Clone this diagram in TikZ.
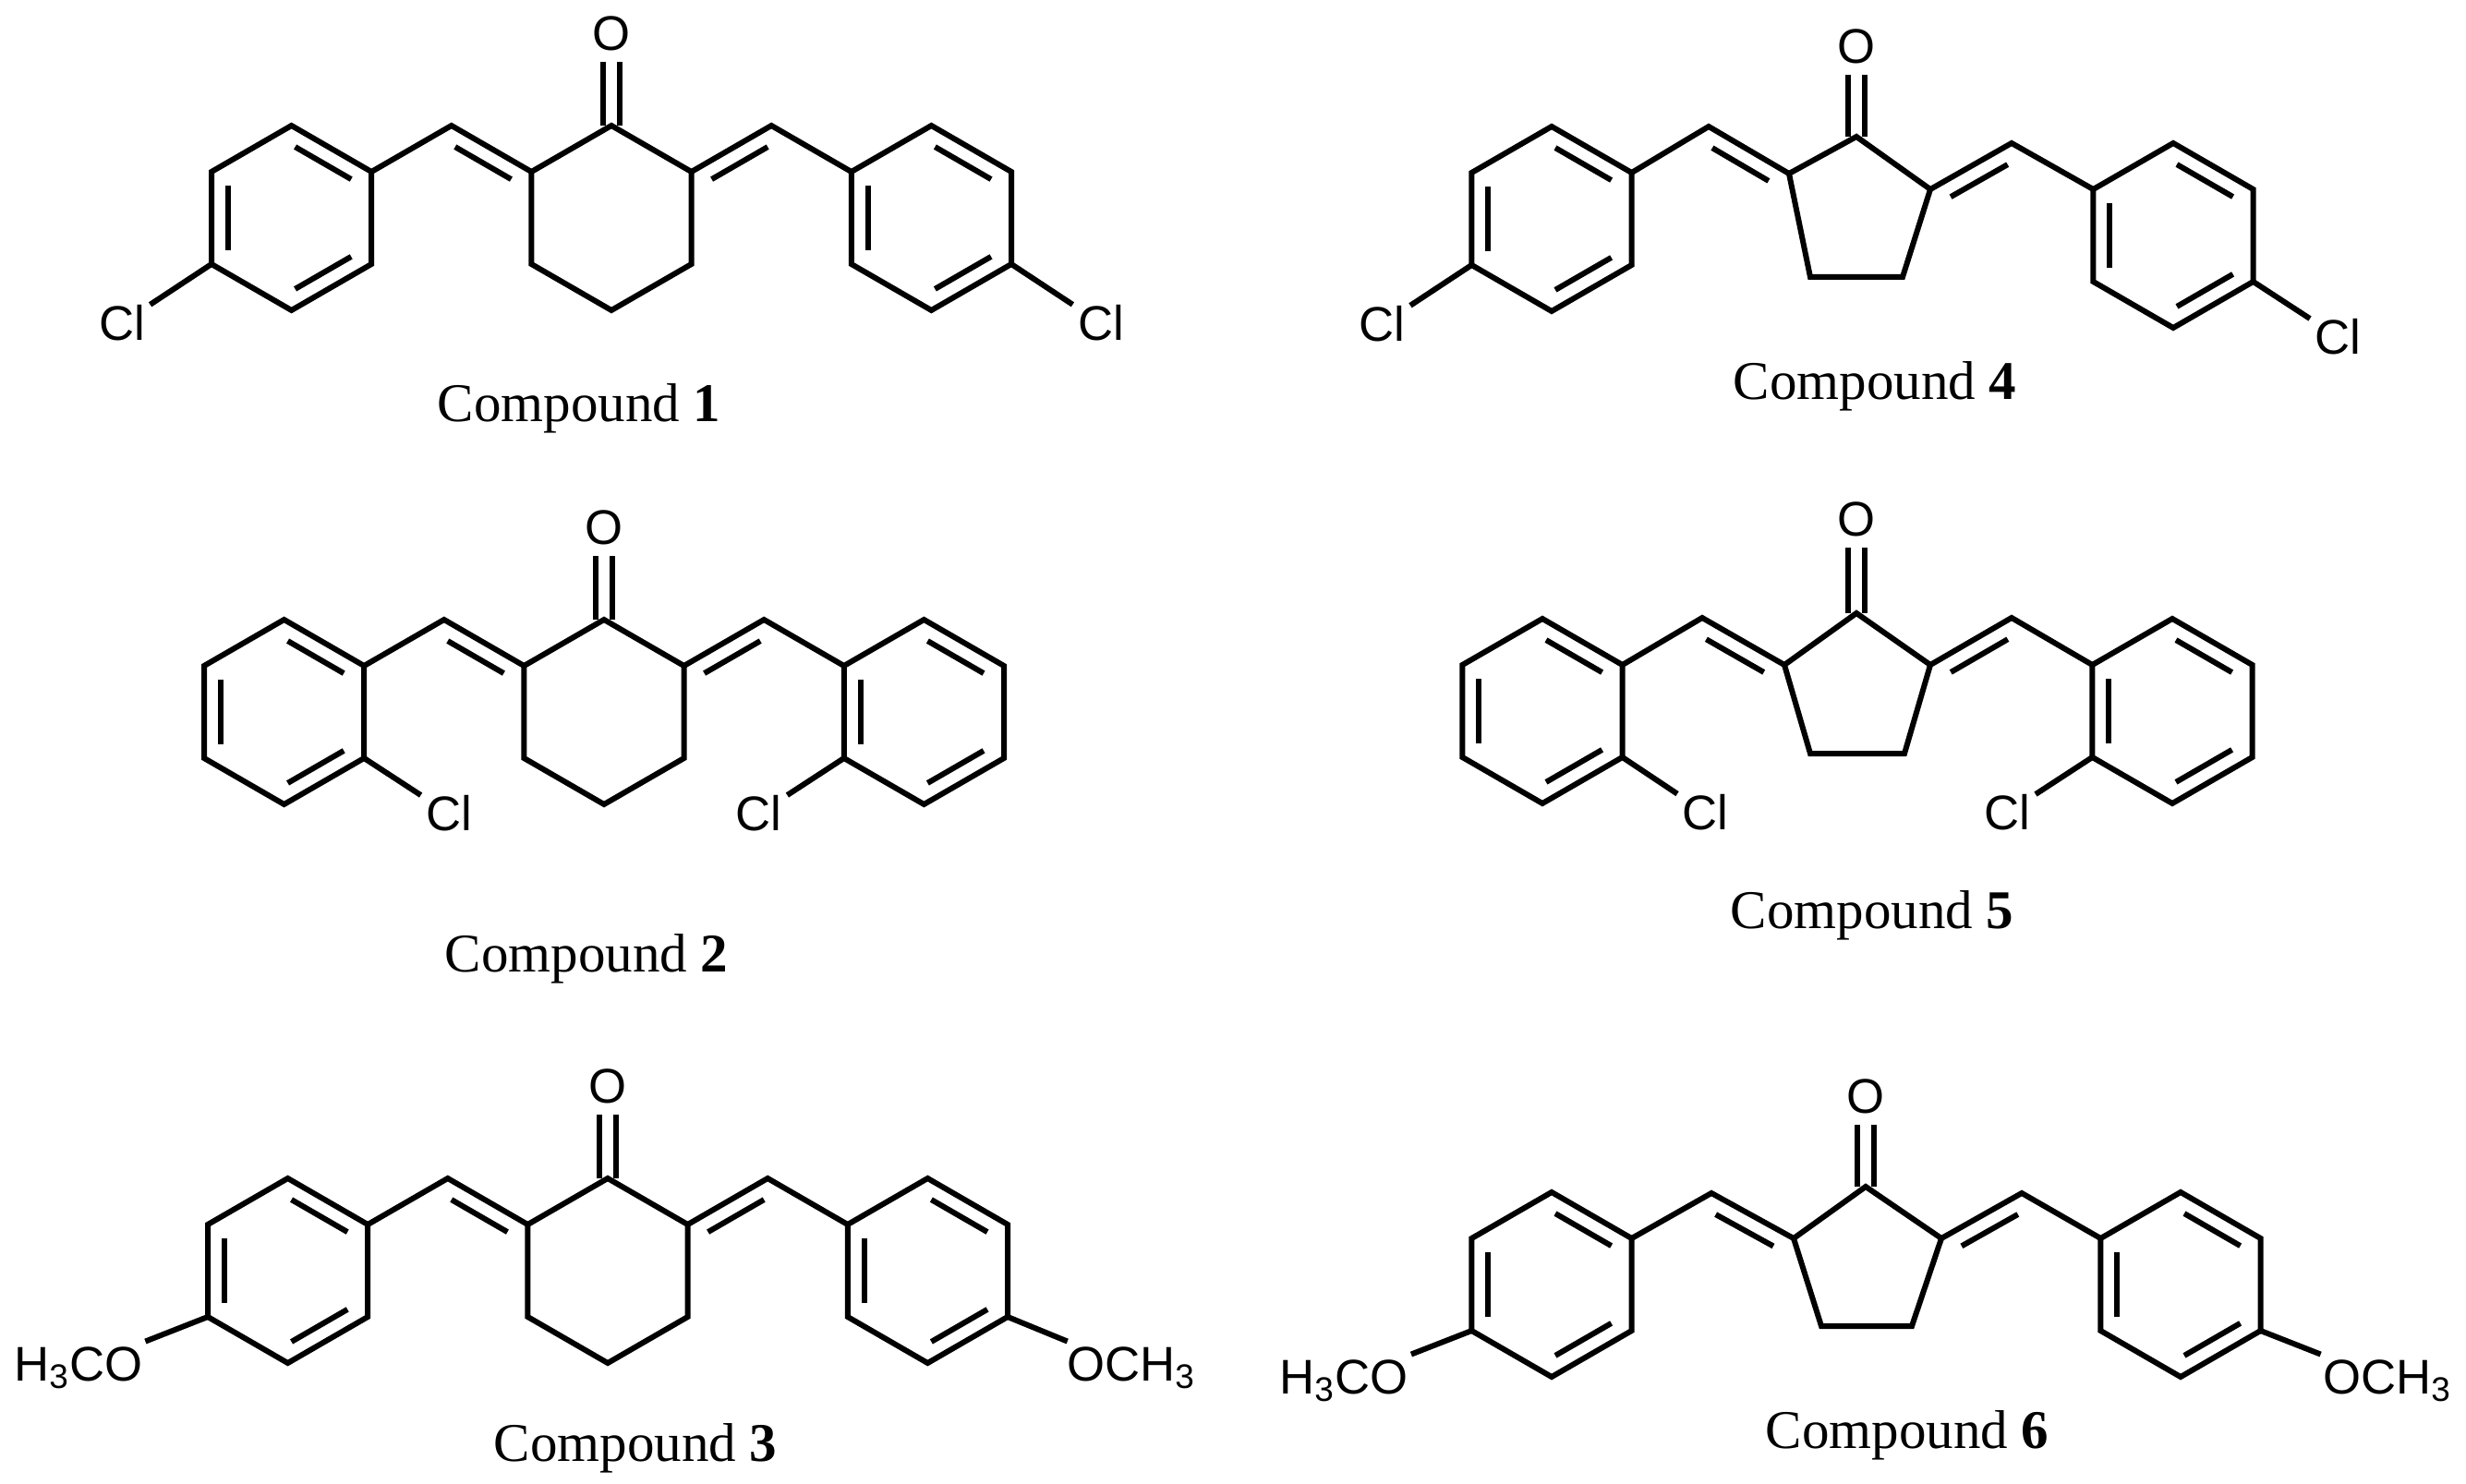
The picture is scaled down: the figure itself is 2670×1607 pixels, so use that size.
\documentclass[tikz,border=0pt]{standalone}
\usepackage{fontspec}
\setmainfont{Liberation Serif}
\newfontfamily\arialf{Liberation Sans}
\usetikzlibrary{calc}
\tikzset{
  bond/.style={line width=0.6mm, line join=miter, line cap=butt},
  atom/.style={font=\arialf\fontsize{15}{18}\selectfont, inner sep=0.5mm},
  oatom/.style={atom, inner sep=1.2mm},
  lab/.style={font=\fontsize{16.8}{20}\selectfont, anchor=base, inner sep=0pt}
}
% inner line of a double bond, on the left (+90) or right (-90) of a->b
\newcommand\innerb[3][90]{\draw[bond] ($(#2)!0.15!(#3)!1.8mm!#1:(#3)$) -- ($(#3)!0.15!(#2)!1.8mm!-#1:(#2)$);}
\newcommand\hexpts[3]{%
  \coordinate (#1t) at (#2,#3-100);
  \coordinate (#1ul) at (#2-86.6,#3-50);
  \coordinate (#1ll) at (#2-86.6,#3+50);
  \coordinate (#1b) at (#2,#3+100);
  \coordinate (#1lr) at (#2+86.6,#3+50);
  \coordinate (#1ur) at (#2+86.6,#3-50);
  \draw[bond] (#1t)--(#1ul)--(#1ll)--(#1b)--(#1lr)--(#1ur)--cycle;}
\newcommand\arylring[3]{\hexpts{#1}{#2}{#3}%
  \innerb{#1ur}{#1t}\innerb{#1ul}{#1ll}\innerb{#1b}{#1lr}}
\newcommand\carbonyl[1]{% #1 = name of carbonyl C; O node named #1O
  \draw[bond] ([xshift=-0.9mm]#1) -- ([xshift=-0.9mm]#1O.south);
  \draw[bond] ([xshift=0.9mm]#1) -- ([xshift=0.9mm]#1O.south);}
% six-ring ketone with both benzylidene arms
\newcommand\sixcore[3]{\hexpts{#1}{#2}{#3}%
  \node[oatom] (#1tO) at (#2,#3-200) {O};
  \carbonyl{#1t}
  \coordinate (#1hl) at (#2-173.2,#3-100);
  \coordinate (#1hr) at (#2+173.2,#3-100);
  \arylring{#1L}{#2-346.4}{#3}
  \arylring{#1R}{#2+346.4}{#3}
  \draw[bond] (#1ul)--(#1hl)--(#1Lur);
  \draw[bond] (#1ur)--(#1hr)--(#1Rul);
  \innerb[-90]{#1hl}{#1ul}
  \innerb[-90]{#1ur}{#1hr}}
\begin{document}
\begin{tikzpicture}[x=0.1mm,y=-0.1mm]
\useasboundingbox (0,0) rectangle (2670,1607);
% ---------- Compound 1 ----------
\sixcore{a}{662}{236}
\node[atom] (aCl1) at ($(aLll)+(-97,64)$) {Cl};
\node[atom] (aCl2) at ($(aRlr)+(97,64)$) {Cl};
\draw[bond] (aLll) -- (aCl1);
\draw[bond] (aRlr) -- (aCl2);
\node[lab] (la) at (627,457) {Compound \textbf{1}};
% ---------- Compound 2 ----------
\sixcore{b}{654}{771}
\node[atom] (bCl1) at ($(bLlr)+(92,60)$) {Cl};
\node[atom] (bCl2) at ($(bRll)+(-92,60)$) {Cl};
\draw[bond] (bLlr) -- (bCl1);
\draw[bond] (bRll) -- (bCl2);
\node[lab] (lb) at (635,1052) {Compound \textbf{2}};
% ---------- Compound 3 ----------
\sixcore{c}{658}{1376}
\node[atom] (cO1) at (85,1481) {H\textsubscript{3}CO};
\node[atom] (cO2) at (1225,1481) {OCH\textsubscript{3}};
\draw[bond] (cLll) -- (cO1);
\draw[bond] (cRlr) -- (cO2);
\node[lab] (lc) at (688,1582) {Compound \textbf{3}};
% ---------- Compound 4 ----------
\coordinate (dk) at (2010,148);
\node[oatom] (dkO) at (2010,50) {O};
\carbonyl{dk}
\coordinate (da) at (1937,188);
\coordinate (db) at (2090,205);
\coordinate (dbl) at (1960,300);
\coordinate (dbr) at (2060,300);
\draw[bond] (dk)--(da)--(dbl)--(dbr)--(db)--cycle;
\coordinate (dhl) at (1850,137);
\coordinate (dhr) at (2178,155);
\arylring{dL}{1680}{237}
\arylring{dR}{2353}{255}
\draw[bond] (da)--(dhl)--(dLur);
\draw[bond] (db)--(dhr)--(dRul);
\innerb[-90]{dhl}{da}
\innerb[-90]{db}{dhr}
\node[atom] (dCl1) at ($(dLll)+(-97,64)$) {Cl};
\node[atom] (dCl2) at ($(dRlr)+(92,60)$) {Cl};
\draw[bond] (dLll) -- (dCl1);
\draw[bond] (dRlr) -- (dCl2);
\node[lab] (ld) at (2030,433) {Compound \textbf{4}};
% ---------- Compound 5 ----------
\coordinate (ek) at (2010,664);
\node[oatom] (ekO) at (2010,562) {O};
\carbonyl{ek}
\coordinate (ea) at (1932,720);
\coordinate (eb) at (2090,720);
\coordinate (ebl) at (1960,816);
\coordinate (ebr) at (2062,816);
\draw[bond] (ek)--(ea)--(ebl)--(ebr)--(eb)--cycle;
\coordinate (ehl) at (1843,669);
\coordinate (ehr) at (2178,669);
\arylring{eL}{1670}{770}
\arylring{eR}{2352}{770}
\draw[bond] (ea)--(ehl)--(eLur);
\draw[bond] (eb)--(ehr)--(eRul);
\innerb[-90]{ehl}{ea}
\innerb[-90]{eb}{ehr}
\node[atom] (eCl1) at ($(eLlr)+(90,60)$) {Cl};
\node[atom] (eCl2) at ($(eRll)+(-92,60)$) {Cl};
\draw[bond] (eLlr) -- (eCl1);
\draw[bond] (eRll) -- (eCl2);
\node[lab] (le) at (2027,1005) {Compound \textbf{5}};
% ---------- Compound 6 ----------
\coordinate (fk) at (2020,1285);
\node[oatom] (fkO) at (2020,1187) {O};
\carbonyl{fk}
\coordinate (fa) at (1942,1341);
\coordinate (fb) at (2102,1341);
\coordinate (fbl) at (1972,1436);
\coordinate (fbr) at (2070,1436);
\draw[bond] (fk)--(fa)--(fbl)--(fbr)--(fb)--cycle;
\coordinate (fhl) at (1853,1292);
\coordinate (fhr) at (2189,1292);
\arylring{fL}{1680}{1391}
\arylring{fR}{2361}{1391}
\draw[bond] (fa)--(fhl)--(fLur);
\draw[bond] (fb)--(fhr)--(fRul);
\innerb[-90]{fhl}{fa}
\innerb[-90]{fb}{fhr}
\node[atom] (fO1) at (1455,1495) {H\textsubscript{3}CO};
\node[atom] (fO2) at (2585,1495) {OCH\textsubscript{3}};
\draw[bond] (fLll) -- (fO1);
\draw[bond] (fRlr) -- (fO2);
\node[lab] (lf) at (2065,1568) {Compound \textbf{6}};
\end{tikzpicture}
\end{document}
